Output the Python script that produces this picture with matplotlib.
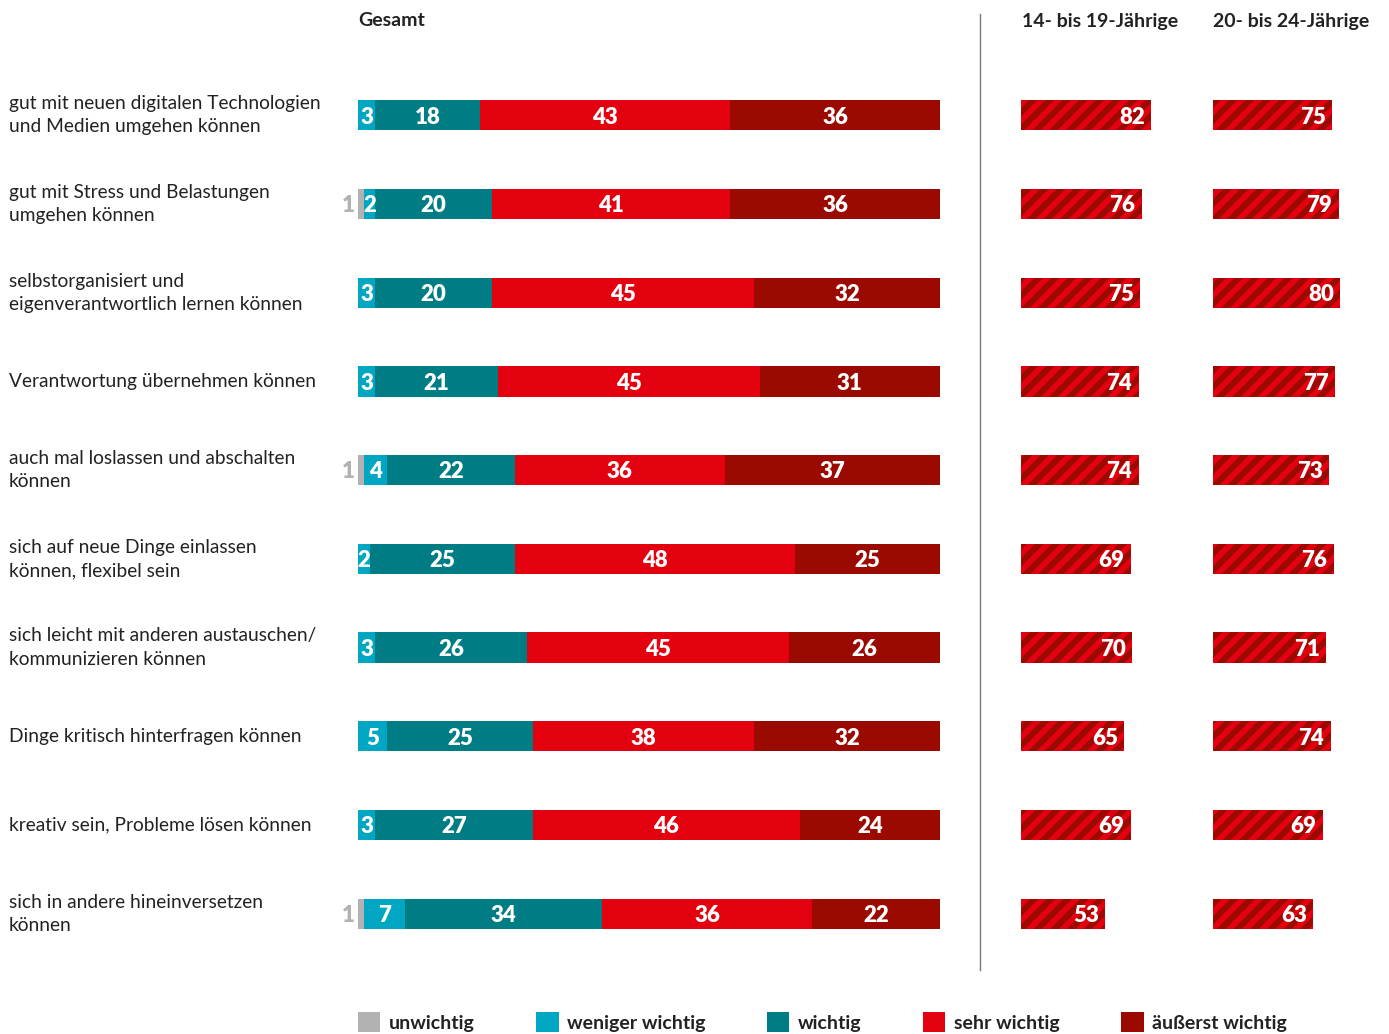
import matplotlib
matplotlib.use("Agg")
import matplotlib.pyplot as plt
from matplotlib.patches import Patch

plt.rcParams['font.family'] = ['Lato', 'DejaVu Sans']
plt.rcParams['hatch.linewidth'] = 4.2

W, H = 1389, 1034

items = [
    "gut mit neuen digitalen Technologien\nund Medien umgehen können",
    "gut mit Stress und Belastungen\numgehen können",
    "selbstorganisiert und\neigenverantwortlich lernen können",
    "Verantwortung übernehmen können",
    "auch mal loslassen und abschalten\nkönnen",
    "sich auf neue Dinge einlassen\nkönnen, flexibel sein",
    "sich leicht mit anderen austauschen/\nkommunizieren können",
    "Dinge kritisch hinterfragen können",
    "kreativ sein, Probleme lösen können",
    "sich in andere hineinversetzen\nkönnen",
]
unwichtig = [0, 1, 0, 0, 1, 0, 0, 0, 0, 1]
weniger = [3, 2, 3, 3, 4, 2, 3, 5, 3, 7]
wichtig = [18, 20, 20, 21, 22, 25, 26, 25, 27, 34]
sehr = [43, 41, 45, 45, 36, 48, 45, 38, 46, 36]
aeusserst = [36, 36, 32, 31, 37, 25, 26, 32, 24, 22]
age_14_19 = [82, 76, 75, 74, 74, 69, 70, 65, 69, 53]
age_20_24 = [75, 79, 80, 77, 73, 76, 71, 74, 69, 63]

categories = ["unwichtig", "weniger wichtig", "wichtig", "sehr wichtig", "äußerst wichtig"]
colors = ["#b2b2b2", "#00a6c2", "#007c84", "#e3000f", "#9a0a00"]
series = [unwichtig, weniger, wichtig, sehr, aeusserst]

fig = plt.figure(figsize=(W / 100, H / 100), dpi=100)

def px_axes(x0, x1, y0, y1):
    return fig.add_axes([x0 / W, 1 - y1 / H, (x1 - x0) / W, (y1 - y0) / H])

top, bottom = 71, 958
n = len(items)
ys = list(range(n))
bh = 0.34

# main stacked bars
ax = px_axes(358, 940, top, bottom)
left = [0] * n
for vals, col in zip(series, colors):
    ax.barh(ys, vals, left=left, height=bh, color=col, linewidth=0)
    for i, v in enumerate(vals):
        if v > 0 and col != colors[0]:
            ax.text(left[i] + v / 2, i + 0.02, str(v), ha='center', va='center',
                    color='white', fontsize=16, fontweight='heavy')
        elif v > 0:
            ax.text(-0.6, i + 0.02, str(v), ha='right', va='center',
                    color='#b2b2b2', fontsize=16, fontweight='heavy')
    left = [a + b for a, b in zip(left, vals)]
ax.set_xlim(0, 100)
ax.set_ylim(n - 0.5, -0.5)
ax.axis('off')

for i, lab in enumerate(items):
    ax.text(-60.0, i, lab, ha='left', va='center', fontsize=13.8,
            color='#222222', linespacing=1.45)

# age group panels
for x0, vals in [(1021, age_14_19), (1213, age_20_24)]:
    a = px_axes(x0, x0 + 159, top, bottom)
    a.barh(ys, vals, height=bh, color=colors[3], edgecolor=colors[4],
           hatch='//', linewidth=0)
    for i, v in enumerate(vals):
        a.text(v - 4, i + 0.02, str(v), ha='right', va='center', color='white',
               fontsize=16, fontweight='heavy')
    a.set_xlim(0, 100)
    a.set_ylim(n - 0.5, -0.5)
    a.axis('off')

# headers
for x, txt in [(358, "Gesamt"), (1022, "14- bis 19-Jährige"), (1213, "20- bis 24-Jährige")]:
    fig.text(x / W, 1 - 21 / H, txt, ha='left', va='center',
             fontsize=14, fontweight='bold', color='#222222')

# divider
fig.add_artist(plt.Line2D([980 / W, 980 / W], [1 - 14 / H, 1 - 970 / H],
                          color='#777777', linewidth=1))

# legend
handles = [Patch(facecolor=c, edgecolor='none', label=l) for c, l in zip(colors, categories)]
leg = fig.legend(handles=handles, loc='center left', bbox_to_anchor=(358 / W, 1 - 1022 / H),
                 ncol=5, frameon=False, handlelength=1.15, handleheight=1.15,
                 handletextpad=0.45, columnspacing=3.15, borderpad=0, borderaxespad=0,
                 prop={'size': 14, 'weight': 'bold'})
for t in leg.get_texts():
    t.set_color('#222222')

fig.savefig("out.png", dpi=100)
